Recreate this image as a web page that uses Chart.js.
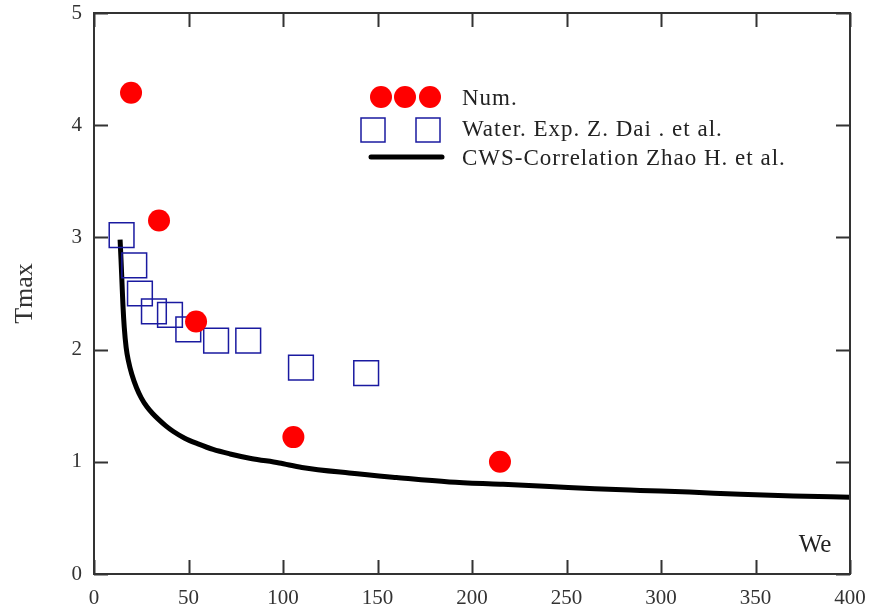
<!DOCTYPE html>
<html>
<head>
<meta charset="utf-8">
<title>Tmax vs We</title>
<script src="https://cdn.jsdelivr.net/npm/chart.js"></script>
<style>
  html, body { margin: 0; padding: 0; background: #fff; }
  .wrap { width: 872px; height: 609px; }
</style>
</head>
<body>
<div class="wrap"><canvas id="c" width="872" height="609"></canvas></div>
<script>
// Num. (red dots)
const numWe = [19.6, 34.4, 54, 105.5, 214.8];
const numT  = [4.29, 3.15, 2.25, 1.22, 1.00];

// Water. Exp. Z. Dai et al. (open squares)
const expWe = [14.6, 21.3, 24.3, 31.7, 40.2, 49.9, 64.6, 81.6, 109.5, 144];
const expT  = [3.02, 2.75, 2.50, 2.34, 2.31, 2.18, 2.08, 2.08, 1.84, 1.79];

// CWS-Correlation Zhao H. et al.
const corrWe = [13.8, 14.3, 14.8, 15.3, 16, 17, 18.2, 20, 22.5, 25, 28, 31, 34, 38, 42, 48, 55, 63, 72, 83, 98, 110, 135, 160, 188, 215, 241, 265, 289, 315, 342, 370, 400];
const corrT  = [2.98, 2.8, 2.6, 2.4, 2.2, 2.02, 1.9, 1.78, 1.66, 1.57, 1.49, 1.43, 1.38, 1.32, 1.27, 1.21, 1.16, 1.11, 1.07, 1.03, 0.99, 0.95, 0.90, 0.86, 0.82, 0.80, 0.78, 0.76, 0.745, 0.73, 0.71, 0.695, 0.685];

const xTicks = [0, 50, 100, 150, 200, 250, 300, 350, 400];
const yTicks = [0, 1, 2, 3, 4, 5];

const SERIF = '"Liberation Serif", "Times New Roman", serif';
const INK = '#333';
const PLOT_TOP = 13;

const pts = (xs, ys) => xs.map((x, i) => ({ x: x, y: ys[i] }));

// pull the plot's top edge up to PLOT_TOP after Chart.js has done its layout
const topFix = {
  id: 'topFix',
  afterLayout(chart) {
    const y = chart.scales.y;
    const d = y.top - PLOT_TOP;
    if (d > 0) {
      y.top = PLOT_TOP;
      y.height += d;
      chart.chartArea.top = PLOT_TOP;
      chart.chartArea.height += d;
      y.configure();
    }
  }
};

// frame, inward ticks, y labels, legend and the "We" label
const decor = {
  id: 'decor',
  afterDraw(chart) {
    const ctx = chart.ctx;
    const a = chart.chartArea;
    const xs = chart.scales.x, ys = chart.scales.y;
    ctx.save();
    ctx.strokeStyle = INK;
    ctx.lineWidth = 2;
    ctx.strokeRect(a.left, a.top, a.right - a.left, a.bottom - a.top);
    ctx.beginPath();
    xTicks.forEach(v => {
      const px = Math.round(xs.getPixelForValue(v)) + 0.5;
      ctx.moveTo(px, a.bottom); ctx.lineTo(px, a.bottom - 14);
      ctx.moveTo(px, a.top); ctx.lineTo(px, a.top + 14);
    });
    yTicks.forEach(v => {
      const py = Math.round(ys.getPixelForValue(v)) + 0.5;
      ctx.moveTo(a.left, py); ctx.lineTo(a.left + 14, py);
      ctx.moveTo(a.right, py); ctx.lineTo(a.right - 14, py);
    });
    ctx.stroke();

    // y tick labels
    ctx.fillStyle = INK;
    ctx.font = '21px ' + SERIF;
    ctx.textAlign = 'right';
    ctx.textBaseline = 'middle';
    yTicks.forEach(v => ctx.fillText(String(v), a.left - 12, ys.getPixelForValue(v)));

    // legend
    ctx.fillStyle = '#ff0000';
    [381, 405, 430].forEach(cx => {
      ctx.beginPath(); ctx.arc(cx, 97, 11, 0, Math.PI * 2); ctx.fill();
    });
    ctx.strokeStyle = '#1a1aa0';
    ctx.lineWidth = 1.5;
    [373, 428].forEach(cx => ctx.strokeRect(cx - 12, 118, 24, 24));
    ctx.strokeStyle = '#000';
    ctx.lineWidth = 5;
    ctx.lineCap = 'round';
    ctx.beginPath(); ctx.moveTo(371, 157); ctx.lineTo(442, 157); ctx.stroke();

    ctx.fillStyle = '#222';
    ctx.font = '23px ' + SERIF;
    ctx.letterSpacing = '1px';
    ctx.textAlign = 'left';
    ctx.fillText('Num.', 462, 99);
    ctx.fillText('Water. Exp. Z. Dai . et al.', 462, 130);
    ctx.fillText('CWS-Correlation Zhao H. et al.', 462, 159);

    ctx.letterSpacing = '0px';
    ctx.font = '25px ' + SERIF;
    ctx.textAlign = 'center';
    ctx.fillText('We', 815, 545);
    ctx.restore();
  }
};

new Chart(document.getElementById('c'), {
  type: 'scatter',
  data: {
    datasets: [
      {
        label: 'Num.',
        data: pts(numWe, numT),
        order: 1,
        pointStyle: 'circle',
        pointRadius: 11,
        pointBackgroundColor: '#ff0000',
        pointBorderColor: '#ff0000',
        pointBorderWidth: 0
      },
      {
        label: 'Water. Exp. Z. Dai . et al.',
        data: pts(expWe, expT),
        order: 2,
        pointStyle: 'rect',
        pointRadius: 17.5,
        pointBackgroundColor: 'rgba(0,0,0,0)',
        pointBorderColor: '#1a1aa0',
        pointBorderWidth: 1.5
      },
      {
        label: 'CWS-Correlation Zhao H. et al.',
        data: pts(corrWe, corrT),
        order: 3,
        showLine: true,
        borderColor: '#000',
        borderWidth: 5,
        pointRadius: 0,
        cubicInterpolationMode: 'monotone'
      }
    ]
  },
  options: {
    responsive: false,
    animation: false,
    layout: { padding: { top: 13, right: 22, left: 0, bottom: 0 } },
    plugins: { legend: { display: false }, tooltip: { enabled: false } },
    scales: {
      x: {
        type: 'linear', min: 0, max: 400,
        afterFit: s => { s.height = 35; },
        afterBuildTicks: s => { s.ticks = xTicks.map(v => ({ value: v })); },
        grid: { display: false },
        border: { display: false },
        ticks: { color: INK, padding: 4, font: { family: SERIF, size: 21 }, maxRotation: 0 }
      },
      y: {
        type: 'linear', min: 0, max: 5,
        afterFit: s => { s.width = 94; },
        afterBuildTicks: s => { s.ticks = yTicks.map(v => ({ value: v })); },
        grid: { display: false },
        border: { display: false },
        title: { display: true, text: 'Tmax', color: INK, font: { family: SERIF, size: 26 }, padding: { top: 10 } },
        ticks: { display: false }
      }
    }
  },
  plugins: [topFix, decor]
});
</script>
</body>
</html>
